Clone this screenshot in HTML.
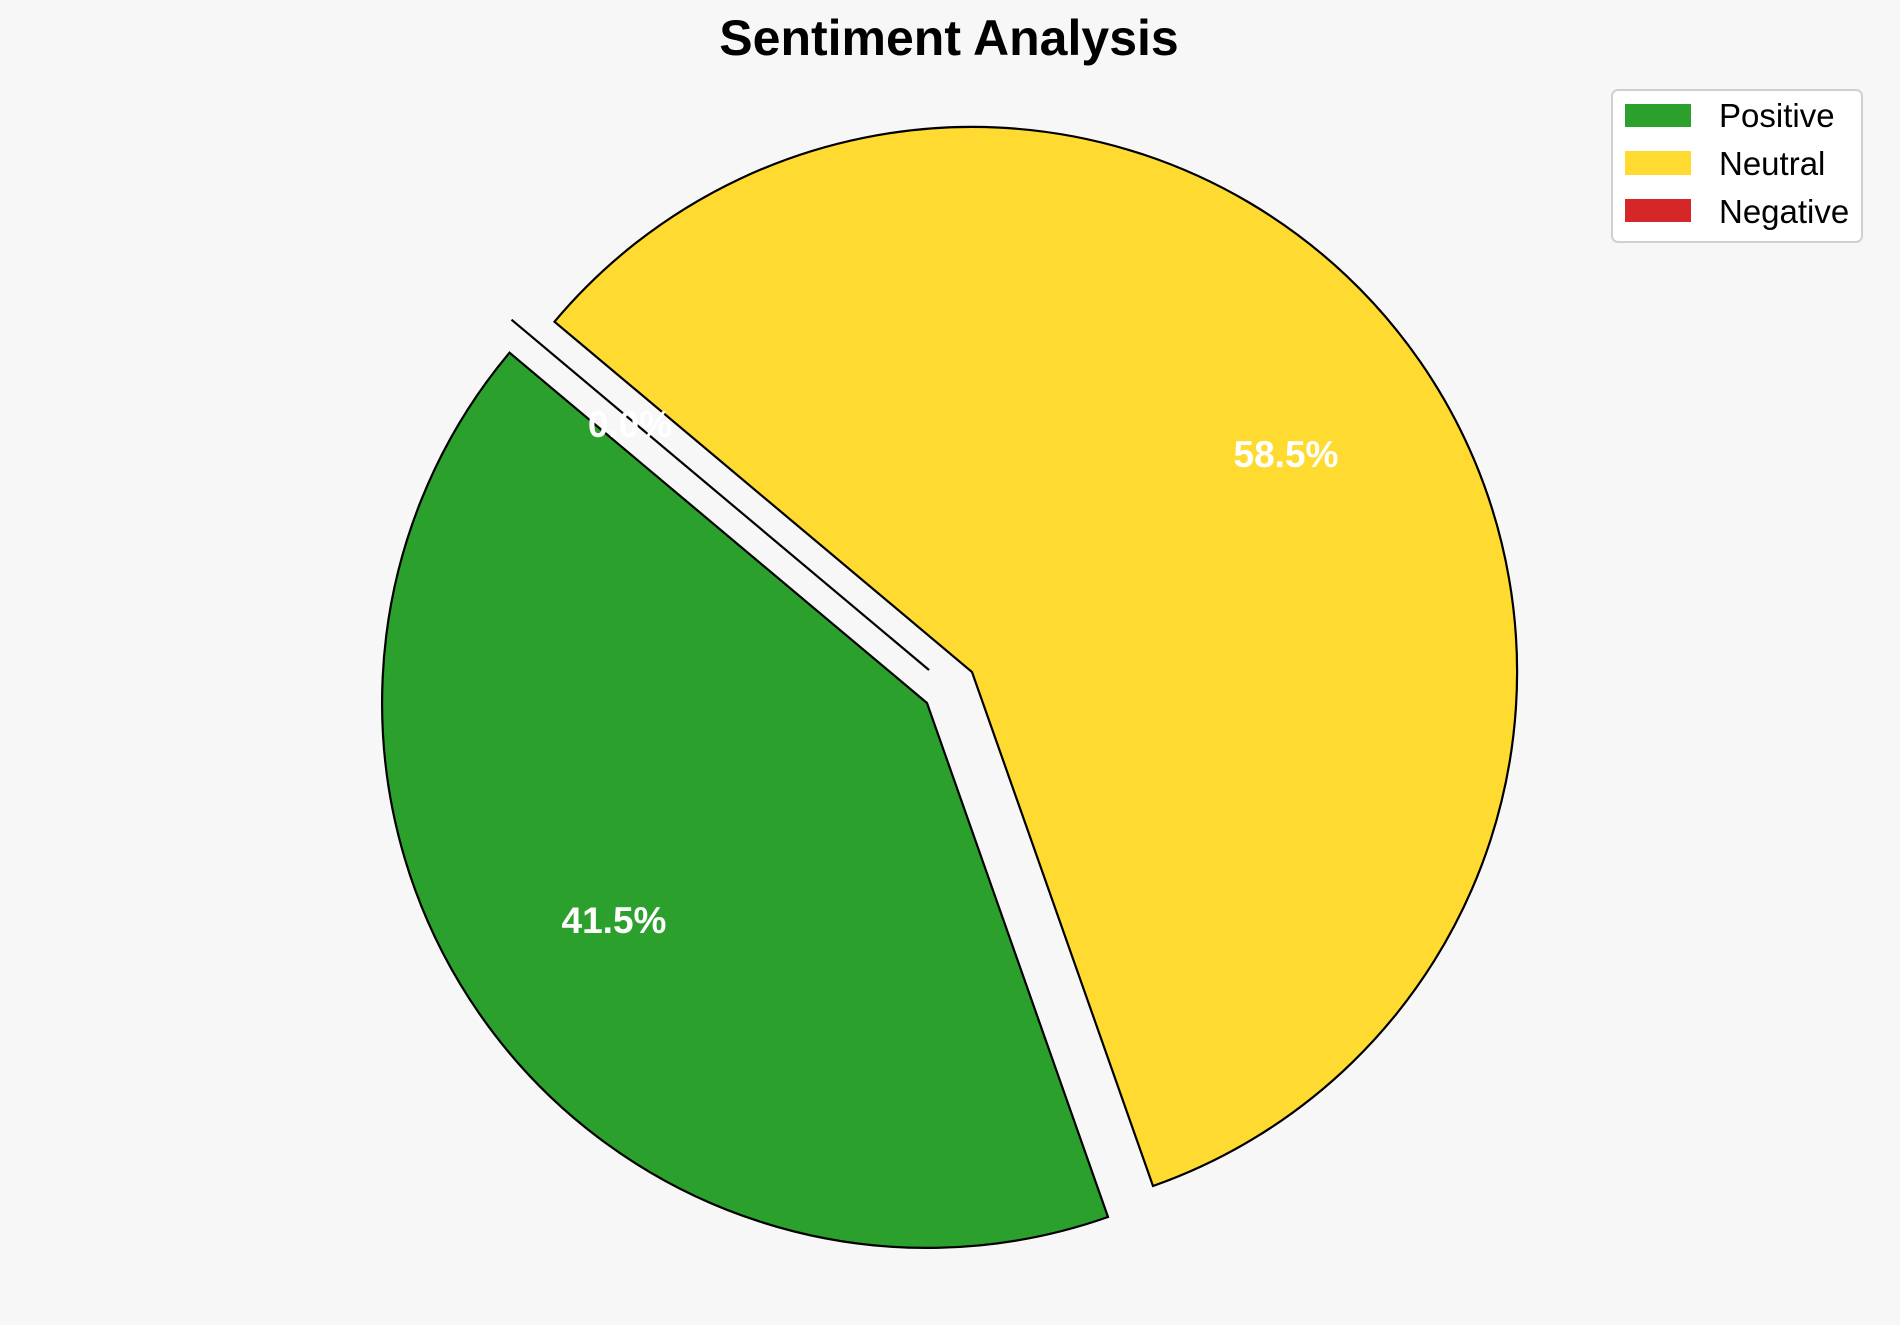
<!DOCTYPE html>
<html><head><meta charset="utf-8"><style>
html,body{margin:0;padding:0;background:#f7f7f7;}
svg{display:block;}
</style></head><body>
<svg width="1900" height="1325" viewBox="0 0 1900 1325" xmlns="http://www.w3.org/2000/svg">
<rect width="1900" height="1325" fill="#f7f7f7"/>
<text x="949" y="55" text-anchor="middle" font-family="Liberation Sans, sans-serif" font-weight="bold" font-size="50" fill="#000">Sentiment Analysis</text>
<path d="M927,703 L509.5,352.7 A545,545 0 0,0 1108,1217 Z" fill="#2ca02c" stroke="#000" stroke-width="2.2" stroke-linejoin="miter"/>
<path d="M972,672 L1153,1186 A545,545 0 1,0 554.5,321.7 Z" fill="#ffda30" stroke="#000" stroke-width="2.2"/>
<line x1="929" y1="670" x2="511.5" y2="319.7" stroke="#000" stroke-width="2.2"/>
<g font-family="Liberation Sans, sans-serif" font-weight="bold" font-size="37" fill="#fff" text-anchor="middle">
<text x="1286" y="467">58.5%</text>
<text x="614" y="933">41.5%</text>
<text x="630" y="437">0.0%</text>
</g>
<rect x="1612" y="90" width="250" height="152" rx="6" fill="#fff" stroke="#d0d0d0" stroke-width="2"/>
<rect x="1625" y="104" width="66" height="23" fill="#2ca02c"/>
<rect x="1625" y="151" width="66" height="24" fill="#ffda30"/>
<rect x="1625" y="199" width="66" height="23" fill="#d62728"/>
<g font-family="Liberation Sans, sans-serif" font-size="33" fill="#000">
<text x="1719" y="127">Positive</text>
<text x="1719" y="175">Neutral</text>
<text x="1719" y="223">Negative</text>
</g>
</svg>
</body></html>
